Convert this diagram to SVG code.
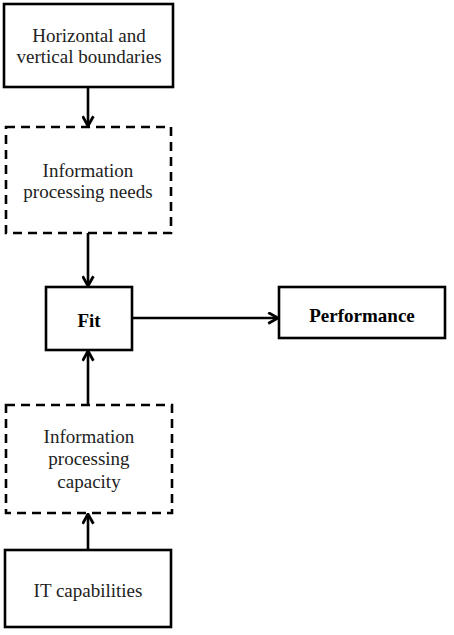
<svg xmlns="http://www.w3.org/2000/svg" width="454" height="635" viewBox="0 0 454 635">
<style>
.box{fill:#fff;stroke:#000;stroke-width:2.6}
.dash{fill:#fff;stroke:#000;stroke-width:2.6;stroke-dasharray:9 6}
.t{font-family:"Liberation Serif","Times New Roman",serif;font-size:19px;fill:#222;text-anchor:middle}
.b{font-weight:bold;fill:#000}
.c{stroke:#000;stroke-width:2.6;fill:none;marker-end:url(#ah)}
</style>
<defs>
<marker id="ah" viewBox="0 0 12 12" refX="11" refY="6" markerWidth="13" markerHeight="13" markerUnits="userSpaceOnUse" orient="auto">
<polyline points="2,1 11,6 2,11" fill="none" stroke="#000" stroke-width="2.6"/>
</marker>
</defs>
<rect width="454" height="635" fill="#fff"/>
<g id="connectors">
<line class="c" x1="88" y1="87" x2="88" y2="126"/>
<line class="c" x1="88" y1="233" x2="88" y2="286"/>
<line class="c" x1="88" y1="405" x2="88" y2="351"/>
<line class="c" x1="88" y1="550" x2="88" y2="514"/>
<line class="c" x1="132" y1="318" x2="278" y2="318"/>
</g>
<g id="n1">
<rect class="box" x="4" y="4" width="169" height="83"/>
<text class="t" x="89" y="42">Horizontal and</text>
<text class="t" x="89" y="63">vertical boundaries</text>
</g>
<g id="n2">
<rect class="dash" x="6" y="127" width="165" height="106"/>
<text class="t" x="88" y="177">Information</text>
<text class="t" x="88" y="198">processing needs</text>
</g>
<g id="n3">
<rect class="box" x="46" y="287" width="86" height="63"/>
<text class="t b" x="89" y="327">Fit</text>
</g>
<g id="n4">
<rect class="box" x="279" y="287" width="166" height="51"/>
<text class="t b" x="362" y="322">Performance</text>
</g>
<g id="n5">
<rect class="dash" x="6" y="405" width="166" height="108"/>
<text class="t" x="89" y="443">Information</text>
<text class="t" x="89" y="465">processing</text>
<text class="t" x="89" y="488">capacity</text>
</g>
<g id="n6">
<rect class="box" x="5" y="550" width="166" height="77"/>
<text class="t" x="88" y="597">IT capabilities</text>
</g>
</svg>
